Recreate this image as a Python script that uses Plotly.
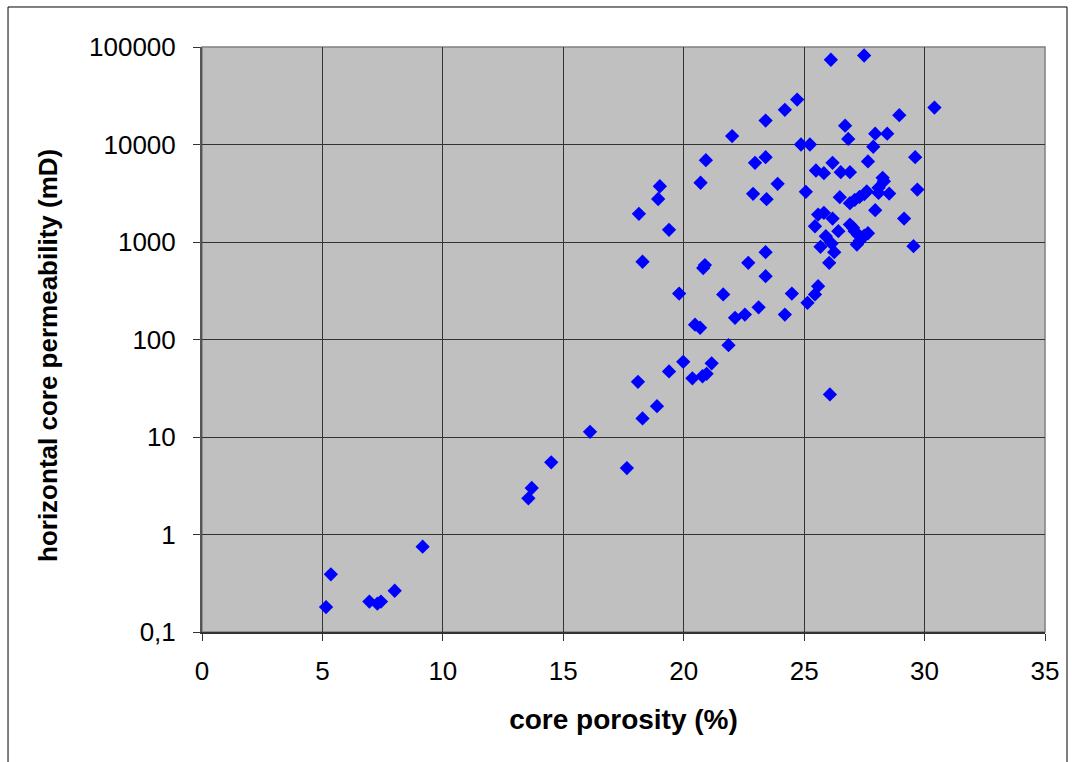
import plotly.graph_objects as go

# Core porosity (%) and horizontal core permeability (mD) per plug sample
porosity = [
    5.15, 5.35, 6.95, 7.28, 7.43, 8.0, 9.16,
    13.55, 13.69, 14.5, 16.11, 17.64,
    18.29, 18.89, 18.1, 19.39, 19.98, 21.16, 20.36, 20.78, 20.95, 21.86,
    20.47, 20.68, 22.13, 22.54, 24.2, 23.11, 25.14, 19.81, 21.64, 24.49, 25.45, 25.58, 26.07,
    18.29, 20.81, 20.88, 22.68, 23.4, 23.4, 19.39, 18.14,
    18.94, 19.01, 20.7, 22.88, 23.44, 23.9, 22.96, 23.4, 20.92, 22.01, 23.4, 24.2, 24.71,
    24.87, 25.24, 25.07, 25.49,
    26.11, 27.49, 30.41, 28.95, 26.7, 26.83, 27.95, 28.45, 27.87, 29.61, 26.18, 25.82,
    26.52, 26.9, 27.65, 28.26, 28.31, 29.7, 28.09, 28.09, 28.53,
    26.48, 26.9, 27.1, 27.3, 27.5, 27.6, 27.95, 29.15, 25.58, 25.82, 26.18, 25.45, 26.42,
    26.9, 27.03, 27.1, 27.23, 27.4, 27.5, 27.65, 27.19, 27.31,
    25.9, 25.68, 26.14, 26.25, 26.04, 29.54,
]
permeability = [
    0.18, 0.39, 0.205, 0.195, 0.205, 0.265, 0.75,
    2.35, 3.0, 5.5, 11.3, 4.8,
    15.5, 20.7, 36.8, 47, 59, 57, 40, 42, 44.5, 87.5,
    142, 132, 167, 180, 180, 214, 238, 296, 290, 296, 290, 352, 27.3,
    627, 540, 580, 612, 787, 446, 1334, 1946,
    2760, 3730, 4050, 3120, 2750, 3950, 6490, 7410, 6900, 12200, 17600, 22700, 28900,
    10000, 10000, 3270, 5410,
    74000, 81800, 23900, 20000, 15600, 11400, 12900, 12900, 9480, 7410, 6490, 5080,
    5200, 5200, 6700, 4550, 4200, 3450, 3600, 3190, 3140,
    2880, 2500, 2700, 2900, 3100, 3300, 2120, 1740, 1910, 1990, 1740, 1450, 1290,
    1510, 1400, 1290, 1190, 1110, 1160, 1230, 943, 1030,
    1146, 892, 966, 787, 612, 906,
]

x_ticks = [0, 5, 10, 15, 20, 25, 30, 35]
y_tickvals = [0.1, 1, 10, 100, 1000, 10000, 100000]
y_ticktext = ["0,1", "1", "10", "100", "1000", "10000", "100000"]

FONT = "Liberation Sans, Arial, sans-serif"

fig = go.Figure(
    go.Scatter(
        x=porosity,
        y=permeability,
        mode="markers",
        marker=dict(symbol="diamond", size=11, color="#0000FF", line=dict(width=0)),
        showlegend=False,
        cliponaxis=False,
    )
)

fig.update_xaxes(
    range=[0, 35],
    tickvals=x_ticks,
    showgrid=True,
    gridcolor="#333333",
    gridwidth=1,
    zeroline=False,
    showline=True,
    linecolor="#333333",
    linewidth=2,
    ticks="outside",
    ticklen=7,
    tickcolor="#333333",
    tickfont=dict(family=FONT, size=26, color="#000000"),
    ticklabelstandoff=8,
    title=dict(
        text="core porosity (%)",
        font=dict(family=FONT, size=28, color="#000000", weight="bold"),
        standoff=24,
    ),
)
fig.update_yaxes(
    type="log",
    range=[-1, 5],
    tickvals=y_tickvals,
    ticktext=y_ticktext,
    showgrid=True,
    gridcolor="#333333",
    gridwidth=1,
    zeroline=False,
    showline=True,
    linecolor="#555555",
    linewidth=2,
    ticks="outside",
    ticklen=7,
    tickcolor="#333333",
    tickfont=dict(family=FONT, size=26, color="#000000"),
    ticklabelstandoff=12,
)

fig.update_layout(
    width=1074,
    height=762,
    margin=dict(l=202, r=29, t=47, b=130),
    paper_bgcolor="#FFFFFF",
    plot_bgcolor="#C0C0C0",
    annotations=[
        # y-axis title, set slightly below the axis midpoint
        dict(
            text="<b>horizontal core permeability (mD)</b>",
            xref="paper", yref="paper",
            x=-0.1827, y=0.4735,
            xanchor="center", yanchor="middle",
            textangle=-90,
            showarrow=False,
            font=dict(family=FONT, size=26, color="#000000"),
        )
    ],
    shapes=[
        # plot area frame
        dict(type="rect", xref="paper", yref="paper", x0=0, x1=1, y0=0, y1=1,
             line=dict(color="#808080", width=1.5), layer="below"),
        # chart area frame
        dict(type="rect", xref="paper", yref="paper",
             x0=-0.2301, x1=1.0261, y0=-0.25, y1=1.0684,
             line=dict(color="#000000", width=1), layer="above"),
    ],
)

fig.write_html("out.html")
